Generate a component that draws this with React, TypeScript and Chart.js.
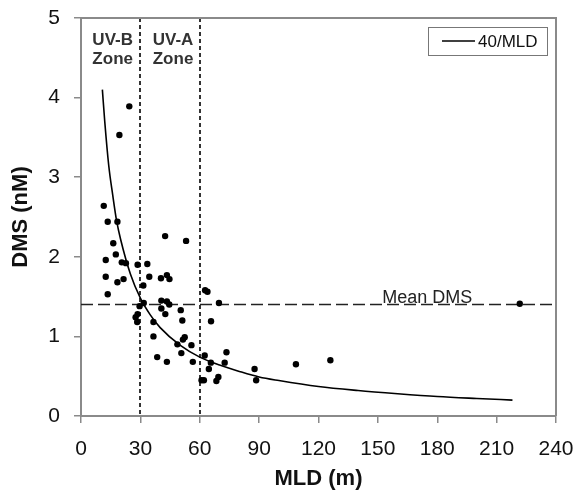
import { useEffect, useRef } from "react";
import { Chart, registerables } from "chart.js";
Chart.register(...registerables);

// Observed samples: mixed layer depth (m) and DMS (nM)
const mld = [
  24.4, 19.4, 11.5, 13.5, 18.4, 16.3, 42.5, 53.1, 17.6, 12.5, 20.6, 22.7, 28.6, 33.5,
  12.5, 18.4, 21.5, 34.5, 13.5, 31.5, 40.4, 43.4, 44.7, 29.6, 31.7, 40.6, 43.4, 44.6,
  40.6, 42.6, 50.4, 51.2, 27.6, 28.6, 28.4, 36.6, 36.6, 38.5, 43.4, 52.4, 51.5, 48.7,
  50.7, 55.8, 56.5, 62.7, 63.9, 65.7, 69.7, 62.5, 65.6, 64.6, 60.9, 62.1, 68.4, 69.4,
  72.6, 73.5, 87.7, 88.5, 108.6, 126.0, 221.7,
];
const dms = [
  3.89, 3.53, 2.64, 2.44, 2.44, 2.17, 2.26, 2.2, 2.03, 1.96, 1.93, 1.92, 1.9, 1.91,
  1.75, 1.68, 1.72, 1.75, 1.53, 1.64, 1.73, 1.77, 1.72, 1.38, 1.42, 1.45, 1.44, 1.4,
  1.35, 1.28, 1.33, 1.2, 1.24, 1.28, 1.18, 1.18, 1.0, 0.74, 0.68, 0.99, 0.96, 0.9,
  0.79, 0.89, 0.68, 1.58, 1.56, 1.19, 1.42, 0.76, 0.67, 0.59, 0.45, 0.45, 0.44, 0.49,
  0.67, 0.8, 0.59, 0.45, 0.65, 0.7, 1.41,
];

// Fitted curve
const curveLabel = "40/MLD";
const curveMld = [10.8, 12, 14, 16, 18, 20, 25, 30, 35, 40, 50, 60, 70, 80, 90, 100, 120, 140, 160, 180, 200, 218];
const curveDms = [4.1, 3.7, 3.15, 2.78, 2.45, 2.22, 1.78, 1.48, 1.27, 1.11, 0.89, 0.74, 0.64, 0.56, 0.49, 0.445, 0.37, 0.32, 0.28, 0.245, 0.22, 0.2];

const xTicks = [0, 30, 60, 90, 120, 150, 180, 210, 240];
const yTicks = [0, 1, 2, 3, 4, 5];

const zoneLimits = [30, 60];
const zoneLabels = [["UV-B", "Zone"], ["UV-A", "Zone"]];
const zoneLabelX = [16, 46.5];

const meanDms = 1.41;
const meanLabel = "Mean DMS";
const meanLabelX = 175;

const FONT = "'Liberation Sans', Arial, Helvetica, sans-serif";
const AXIS_GRAY = "#8a8a8a";

const overlay = {
  id: "overlay",
  beforeDatasetsDraw(chart: any) {
    const { ctx, chartArea: a, scales } = chart;
    const x = scales.x;
    const y = scales.y;
    ctx.save();
    ctx.beginPath();
    ctx.rect(a.left, a.top, a.right - a.left, a.bottom - a.top);
    ctx.clip();
    ctx.lineWidth = 2;
    ctx.strokeStyle = "#333";
    ctx.setLineDash([4, 3]);
    zoneLimits.forEach((v) => {
      const px = Math.round(x.getPixelForValue(v));
      ctx.beginPath();
      ctx.moveTo(px, a.top);
      ctx.lineTo(px, a.bottom);
      ctx.stroke();
    });
    ctx.lineWidth = 1.5;
    ctx.setLineDash([12, 5]);
    ctx.strokeStyle = "#222";
    const py = Math.round(y.getPixelForValue(meanDms)) + 0.5;
    ctx.beginPath();
    ctx.moveTo(a.left, py);
    ctx.lineTo(a.right, py);
    ctx.stroke();
    ctx.restore();
  },
  afterDraw(chart: any) {
    const { ctx, chartArea: a, scales } = chart;
    const x = scales.x;
    const y = scales.y;
    ctx.save();
    // top & right frame
    ctx.strokeStyle = AXIS_GRAY;
    ctx.lineWidth = 2;
    ctx.beginPath();
    ctx.moveTo(a.left, a.top);
    ctx.lineTo(a.right, a.top);
    ctx.lineTo(a.right, a.bottom);
    ctx.stroke();

    // zone labels
    ctx.fillStyle = "#333";
    ctx.font = `bold 17px ${FONT}`;
    ctx.textAlign = "center";
    ctx.textBaseline = "middle";
    zoneLabels.forEach((lines, i) => {
      const px = x.getPixelForValue(zoneLabelX[i]);
      lines.forEach((t, j) => ctx.fillText(t, px, a.top + 22 + j * 19));
    });

    // mean label
    ctx.fillStyle = "#222";
    ctx.font = `18px ${FONT}`;
    ctx.textBaseline = "alphabetic";
    ctx.fillText(meanLabel, x.getPixelForValue(meanLabelX), y.getPixelForValue(meanDms) - 1);

    // legend box
    const bw = 119, bh = 28;
    const bx = a.right - 9 - bw;
    const by = a.top + 9;
    ctx.fillStyle = "#fff";
    ctx.fillRect(bx, by, bw, bh);
    ctx.strokeStyle = "#777";
    ctx.lineWidth = 1;
    ctx.strokeRect(Math.round(bx) + 0.5, Math.round(by) + 0.5, bw, bh);
    const ly = by + bh / 2;
    ctx.strokeStyle = "#000";
    ctx.lineWidth = 1.5;
    ctx.beginPath();
    ctx.moveTo(bx + 14, ly);
    ctx.lineTo(bx + 47, ly);
    ctx.stroke();
    ctx.fillStyle = "#111";
    ctx.font = `17px ${FONT}`;
    ctx.textAlign = "left";
    ctx.textBaseline = "middle";
    ctx.fillText(curveLabel, bx + 50, ly + 1);
    ctx.restore();
  },
};

export default function App() {
  const ref = useRef<HTMLCanvasElement | null>(null);
  useEffect(() => {
    if (!ref.current) return;
    const chart = new Chart(ref.current, {
      type: "scatter",
      data: {
        datasets: [
          {
            label: "samples",
            data: mld.map((v, i) => ({ x: v, y: dms[i] })),
            pointRadius: 3.2,
            pointBackgroundColor: "#000",
            pointBorderWidth: 0,
            showLine: false,
          },
          {
            label: curveLabel,
            data: curveMld.map((v, i) => ({ x: v, y: curveDms[i] })),
            showLine: true,
            borderColor: "#000",
            borderWidth: 1.6,
            pointRadius: 0,
            cubicInterpolationMode: "monotone",
            fill: false,
          } as any,
        ],
      },
      options: {
        animation: false,
        responsive: false,
        layout: { padding: { left: 0, top: 18, right: 24, bottom: 0 } },
        plugins: { legend: { display: false }, tooltip: { enabled: false } },
        scales: {
          x: {
            type: "linear",
            min: 0,
            max: 240,
            afterBuildTicks: (s: any) => {
              s.ticks = xTicks.map((v) => ({ value: v }));
            },
            afterFit: (s: any) => {
              s.height = 78;
              s.paddingLeft = 0;
              s.paddingRight = 0;
              s.paddingTop = 0;
              s.paddingBottom = 0;
            },
            ticks: { font: { family: FONT, size: 21 }, color: "#111", padding: 14 },
            grid: { drawOnChartArea: false, drawTicks: true, tickLength: 7, color: AXIS_GRAY, lineWidth: 1.5 },
            border: { display: true, color: AXIS_GRAY, width: 2 },
            title: {
              display: true,
              text: "MLD (m)",
              font: { family: FONT, size: 22, weight: "bold" },
              color: "#111",
              padding: { top: 0, bottom: 2 },
            },
          },
          y: {
            type: "linear",
            min: 0,
            max: 5,
            afterBuildTicks: (s: any) => {
              s.ticks = yTicks.map((v) => ({ value: v }));
            },
            afterFit: (s: any) => {
              s.width = 81;
              s.paddingLeft = 0;
              s.paddingRight = 0;
              s.paddingTop = 0;
              s.paddingBottom = 0;
            },
            ticks: { font: { family: FONT, size: 21 }, color: "#111", padding: 14 },
            grid: { drawOnChartArea: false, drawTicks: true, tickLength: 7, color: AXIS_GRAY, lineWidth: 1.5 },
            border: { display: true, color: AXIS_GRAY, width: 2 },
            title: {
              display: true,
              text: "DMS (nM)",
              font: { family: FONT, size: 22, weight: "bold" },
              color: "#111",
              padding: { top: 8, bottom: 0 },
            },
          },
        },
      },
      plugins: [overlay],
    });
    return () => chart.destroy();
  }, []);
  return (
    <div style={{ position: "absolute", left: 0, top: 0, width: 580, height: 494, background: "#fff" }}>
      <canvas ref={ref} width={580} height={494} style={{ display: "block" }} />
    </div>
  );
}
